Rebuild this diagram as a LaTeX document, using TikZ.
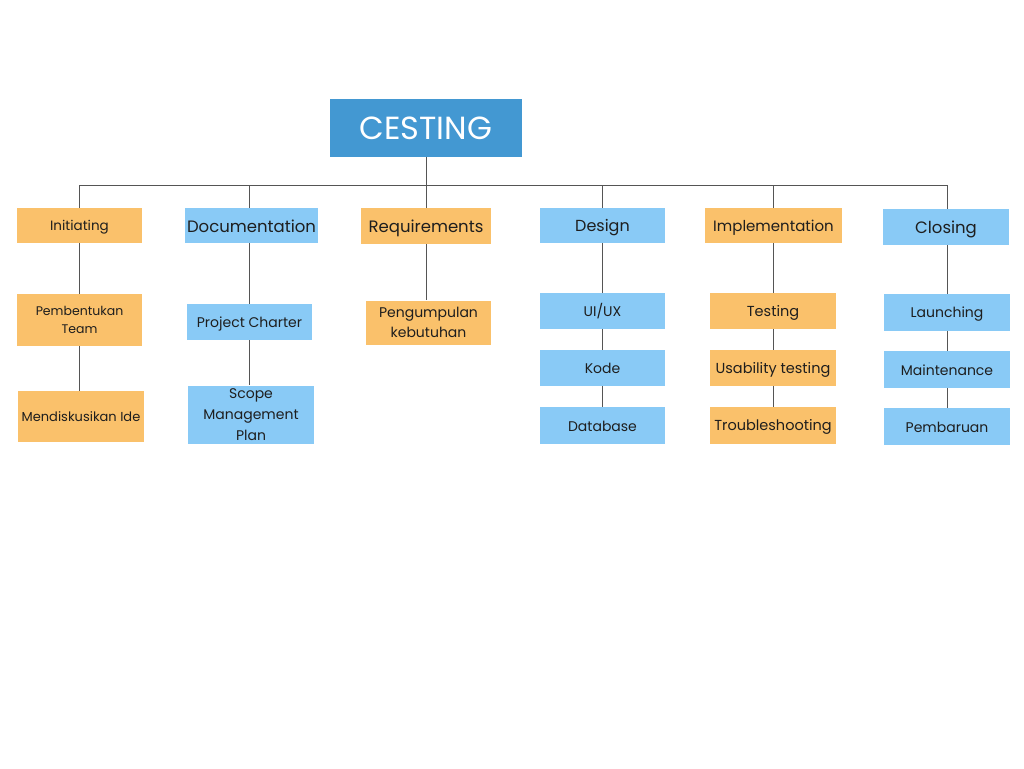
\documentclass[tikz,border=0pt]{standalone}
\usepackage{fontspec}
\setmainfont{Poppins}
\definecolor{orng}{HTML}{FAC16B}
\definecolor{blu}{HTML}{89CAF6}
\definecolor{rootc}{HTML}{4398D2}
\definecolor{linec}{HTML}{555555}
\definecolor{txt}{HTML}{1E1E1E}
\begin{document}
\begin{tikzpicture}[x=1pt,y=-1pt,
  box/.style={draw=none,inner sep=0pt,align=center,text=txt,font=\fontsize{14}{16}\selectfont},
  one/.style={execute at begin node={\rule[-0.2em]{0pt}{1.2em}}},
  ob/.style={box,fill=orng},
  bb/.style={box,fill=blu},
  conn/.style={draw=linec,line width=0.9pt}]
\useasboundingbox (0,0) rectangle (1024,768);
\fill[white] (0,0) rectangle (1024,768);
% root
\node[box,fill=rootc,text=white,minimum width=192pt,minimum height=58pt,font=\fontsize{32}{34}\selectfont] (root) at (426,128) {CESTING};
% level 1
\node[ob,one,minimum width=125pt,minimum height=35pt,font=\fontsize{13.5}{16}\selectfont] (ini) at (79.5,225.5) {Initiating};
\node[bb,one,minimum width=133pt,minimum height=35pt,font=\fontsize{16.5}{18}\selectfont] (doc) at (251.5,225.5) {Documentation};
\node[ob,one,minimum width=130pt,minimum height=36pt,font=\fontsize{16.5}{18}\selectfont] (req) at (426,226) {Requirements};
\node[bb,one,minimum width=125pt,minimum height=35pt,font=\fontsize{16}{18}\selectfont] (des) at (602.5,225.5) {Design};
\node[ob,one,minimum width=137pt,minimum height=35pt,font=\fontsize{15}{18}\selectfont] (imp) at (773.5,225.5) {Implementation};
\node[bb,one,minimum width=126pt,minimum height=36pt,font=\fontsize{16.5}{18}\selectfont] (clo) at (946,227) {Closing};
% level 2
\node[ob,minimum width=125pt,minimum height=52pt,font=\fontsize{12.5}{18}\selectfont] (pem) at (79.5,320) {Pembentukan\\Team};
\node[ob,one,minimum width=126pt,minimum height=51pt,font=\fontsize{13}{16}\selectfont] (men) at (81,416.5) {Mendiskusikan Ide};
\node[bb,one,minimum width=125pt,minimum height=36pt] (pc) at (249.5,322) {Project Charter};
\node[bb,minimum width=126pt,minimum height=58pt,font=\fontsize{14}{21}\selectfont] (smp) at (251,414.5) {Scope\\Management\\Plan};
\node[ob,minimum width=125pt,minimum height=44pt,font=\fontsize{14}{20}\selectfont] (pk) at (428.5,322.5) {Pengumpulan\\kebutuhan};
\node[bb,one,minimum width=125pt,minimum height=36pt] (ui) at (602.5,311) {UI/UX};
\node[bb,one,minimum width=125pt,minimum height=36pt] (kod) at (602.5,368) {Kode};
\node[bb,one,minimum width=125pt,minimum height=37pt] (db) at (602.5,425.5) {Database};
\node[ob,one,minimum width=126pt,minimum height=36pt,font=\fontsize{14.5}{16}\selectfont] (tes) at (773,311) {Testing};
\node[ob,one,minimum width=126pt,minimum height=36pt,font=\fontsize{14.5}{16}\selectfont] (use) at (773,368) {Usability testing};
\node[ob,one,minimum width=126pt,minimum height=37pt,font=\fontsize{14.5}{16}\selectfont] (tro) at (773,425.5) {Troubleshooting};
\node[bb,one,minimum width=126pt,minimum height=37pt] (lau) at (947,312.5) {Launching};
\node[bb,one,minimum width=126pt,minimum height=37pt] (mai) at (947,369.5) {Maintenance};
\node[bb,one,minimum width=126pt,minimum height=37pt] (pbr) at (947,426.5) {Pembaruan};
% connectors
\coordinate (barL) at (79,185);
\coordinate (barR) at (947,185);
\draw[conn] (barL) -- (barR);
\draw[conn] (root.south) -- (root.south |- req.north);
\foreach \n in {ini,des,imp}{
  \draw[conn] (\n.north) -- (\n.north |- barL);
}
\draw[conn] (pc.north |- doc.north) -- (pc.north |- barL);
\draw[conn] (lau.north |- clo.north) -- (lau.north |- barL);
\draw[conn] (ini) -- (pem);
\draw[conn] (pem.south) -- (men.north -| pem.south);
\draw[conn] (doc.south -| pc.north) -- (pc.north);
\draw[conn] (pc.south) -- (smp.north -| pc.south);
\draw[conn] (req.south -| root.south) -- (pk.north -| root.south);
\draw[conn] (des) -- (ui);
\draw[conn] (ui) -- (kod);
\draw[conn] (kod) -- (db);
\draw[conn] (imp.south -| tes.north) -- (tes.north);
\draw[conn] (tes) -- (use);
\draw[conn] (use) -- (tro);
\draw[conn] (clo.south -| lau.north) -- (lau.north);
\draw[conn] (lau) -- (mai);
\draw[conn] (mai) -- (pbr);
\end{tikzpicture}
\end{document}
